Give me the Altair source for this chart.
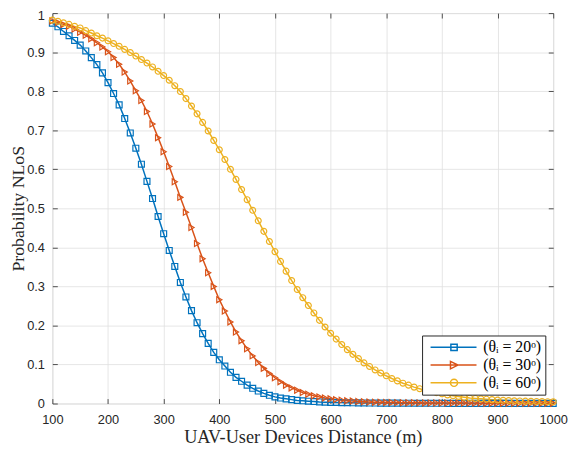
import altair as alt
import pandas as pd

# ---- data ----
distance = list(range(100, 1001, 10))

series_names = ["(θᵢ = 20ᵒ)", "(θᵢ = 30ᵒ)", "(θᵢ = 60ᵒ)"]
colors = ["#0072BD", "#D95319", "#EDB120"]

p_20 = [
    0.974, 0.965, 0.953, 0.942, 0.930, 0.918, 0.903, 0.886, 0.868, 0.847,
    0.822, 0.794, 0.765, 0.730, 0.693, 0.654, 0.613, 0.569, 0.525, 0.479,
    0.435, 0.392, 0.351, 0.310, 0.273, 0.238, 0.207, 0.179, 0.154, 0.131,
    0.112, 0.096, 0.080, 0.067, 0.057, 0.047, 0.039, 0.032, 0.026, 0.021,
    0.017, 0.014, 0.012, 0.010, 0.008, 0.007, 0.006, 0.005, 0.004, 0.0035,
    0.003, 0.0026, 0.0023, 0.002, 0.0018, 0.0016, 0.0014, 0.0013, 0.0012, 0.0011,
    0.001, 0.0009, 0.0009, 0.0008, 0.0008, 0.0007, 0.0007, 0.0007, 0.0006, 0.0006,
    0.0006, 0.0005, 0.0005, 0.0005, 0.0005, 0.0005, 0.0005, 0.0004, 0.0004, 0.0004,
    0.0004, 0.0004, 0.0004, 0.0004, 0.0004, 0.0004, 0.0003, 0.0003, 0.0003, 0.0003,
    0.0003,
]

p_30 = [
    0.980, 0.976, 0.971, 0.966, 0.959, 0.951, 0.943, 0.934, 0.924, 0.913,
    0.901, 0.886, 0.869, 0.849, 0.826, 0.801, 0.776, 0.748, 0.716, 0.681,
    0.645, 0.607, 0.568, 0.528, 0.490, 0.451, 0.410, 0.371, 0.335, 0.300,
    0.266, 0.237, 0.209, 0.183, 0.161, 0.140, 0.122, 0.105, 0.090, 0.077,
    0.066, 0.056, 0.047, 0.040, 0.034, 0.028, 0.024, 0.020, 0.017, 0.014,
    0.012, 0.010, 0.0085, 0.0072, 0.0062, 0.0053, 0.0046, 0.004, 0.0035, 0.0031,
    0.0028, 0.0025, 0.0023, 0.0021, 0.0019, 0.0018, 0.0017, 0.0016, 0.0015, 0.0014,
    0.0013, 0.0012, 0.0012, 0.0011, 0.0011, 0.001, 0.001, 0.001, 0.0009, 0.0009,
    0.0009, 0.0008, 0.0008, 0.0008, 0.0008, 0.0008, 0.0007, 0.0007, 0.0007, 0.0007,
    0.0007,
]

p_60 = [
    0.982, 0.979, 0.975, 0.971, 0.966, 0.962, 0.955, 0.949, 0.942, 0.936,
    0.929, 0.922, 0.915, 0.907, 0.899, 0.890, 0.881, 0.872, 0.862, 0.851,
    0.840, 0.828, 0.814, 0.799, 0.781, 0.762, 0.742, 0.720, 0.698, 0.674,
    0.650, 0.625, 0.600, 0.574, 0.548, 0.522, 0.495, 0.468, 0.441, 0.415,
    0.389, 0.364, 0.339, 0.315, 0.292, 0.271, 0.251, 0.232, 0.213, 0.196,
    0.180, 0.165, 0.151, 0.138, 0.126, 0.115, 0.104, 0.095, 0.086, 0.078,
    0.071, 0.064, 0.058, 0.052, 0.047, 0.042, 0.038, 0.034, 0.031, 0.028,
    0.025, 0.022, 0.020, 0.018, 0.016, 0.014, 0.013, 0.012, 0.011, 0.010,
    0.009, 0.0083, 0.0077, 0.0071, 0.0066, 0.0061, 0.0057, 0.0053, 0.005, 0.0047,
    0.0044,
]

x_ticks = [100, 200, 300, 400, 500, 600, 700, 800, 900, 1000]
y_ticks = [0, 0.1, 0.2, 0.3, 0.4, 0.5, 0.6, 0.7, 0.8, 0.9, 1]

rows = []
for name, vals in zip(series_names, [p_20, p_30, p_60]):
    for d, p in zip(distance, vals):
        rows.append({"d": d, "p": p, "s": name})
df = pd.DataFrame(rows)

# ---- styling ----
AX = "#262626"
GRID = "#dfdfdf"
W, H = 508, 396

xscale = alt.Scale(domain=[100, 1000], nice=False, zero=False)
yscale = alt.Scale(domain=[0, 1], nice=False, zero=False)


def cscale():
    return alt.Scale(domain=series_names, range=colors)


marker_shapes = ["square", "triangle-right", "circle"]
legend_shapes = [
    "M-0.85,0H10.8M4.3,-0.8H5.9V0.8H4.3Z",
    "M-0.85,0H10.8M4.2,-0.95L6.1,0L4.2,0.95Z",
    "M-0.85,0H10.8M6,0A0.9,0.9 0 1,1 4.2,0A0.9,0.9 0 1,1 6,0Z",
]

tick_axis = dict(labels=False, domain=False, grid=False, title=None,
                 ticks=True, tickSize=5, tickColor=AX, tickWidth=0.8)

legend_opts = dict(
    orient="none", legendX=375, legendY=327, title=None,
    strokeColor=AX, fillColor="white", padding=4, cornerRadius=0,
    labelFont="Liberation Serif", labelFontSize=16, labelColor="black",
    labelOffset=42, rowPadding=2, symbolSize=64, symbolStrokeWidth=1.5)

# main layer: lines + labelled axes + grid
lines = alt.Chart(df).mark_line(strokeWidth=1.5).encode(
    x=alt.X("d:Q", scale=xscale, axis=alt.Axis(
        values=x_ticks, format="d", grid=True, gridColor=GRID, gridWidth=0.8,
        ticks=False, domain=False, labelFlush=False, labelOverlap=False,
        labelFont="Liberation Sans", labelFontSize=13, labelColor=AX,
        labelPadding=10, title="UAV-User Devices Distance (m)",
        titleFont="Liberation Serif", titleFontSize=18.5,
        titleFontWeight="normal", titleColor=AX, titleY=25)),
    y=alt.Y("p:Q", scale=yscale, axis=alt.Axis(
        values=y_ticks, format="~g", grid=True, gridColor=GRID, gridWidth=0.8,
        ticks=False, domain=False, labelFlush=False, labelOverlap=False,
        labelFont="Liberation Sans", labelFontSize=13, labelColor=AX,
        labelPadding=8,
        labelOffset={"condition": {"test": "datum.value > 0.95", "value": 3}, "value": 0},
        title="Probability NLoS", titleFont="Liberation Serif",
        titleFontSize=18, titleFontWeight="normal", titleColor=AX,
        titleX=-25, titleY=H / 2)),
    color=alt.Color("s:N", scale=cscale(), legend=None),
    detail="s:N",
)

# markers + inward ticks bottom/left
points = alt.Chart(df).mark_point(filled=False, size=36, strokeWidth=1.2, opacity=1).encode(
    x=alt.X("d:Q", scale=xscale, axis=alt.Axis(orient="bottom", offset=-5,
                                               values=x_ticks, **tick_axis)),
    y=alt.Y("p:Q", scale=yscale, axis=alt.Axis(orient="left", offset=-5,
                                               values=y_ticks, **tick_axis)),
    color=alt.Color("s:N", scale=cscale(), legend=None),
    shape=alt.Shape("s:N", scale=alt.Scale(domain=series_names, range=marker_shapes),
                    legend=None),
)

# legend-only layer + inward ticks top/right
legend_layer = alt.Chart(df).transform_filter("false").mark_point(
    filled=False, size=64, strokeWidth=1.5, opacity=1).encode(
    x=alt.X("d:Q", scale=xscale, axis=alt.Axis(orient="top", offset=-5,
                                               values=x_ticks, **tick_axis)),
    y=alt.Y("p:Q", scale=yscale, axis=alt.Axis(orient="right", offset=-5,
                                               values=y_ticks, **tick_axis)),
    color=alt.Color("s:N", scale=cscale(), legend=alt.Legend(**legend_opts)),
    shape=alt.Shape("s:N", scale=alt.Scale(domain=series_names, range=legend_shapes),
                    legend=alt.Legend(**legend_opts)),
)

chart = alt.layer(lines, points, legend_layer).resolve_scale(
    color="independent", shape="independent"
).resolve_axis(
    x="independent", y="independent"
).properties(
    width=W, height=H,
    autosize=alt.AutoSizeParams(type="none"),
    padding={"left": 45, "top": 2, "right": 15, "bottom": 46},
).configure_view(
    stroke=AX, strokeWidth=0.9
).configure(background="white")

chart.save("out.html", embed_options={"renderer": "svg", "actions": False})
